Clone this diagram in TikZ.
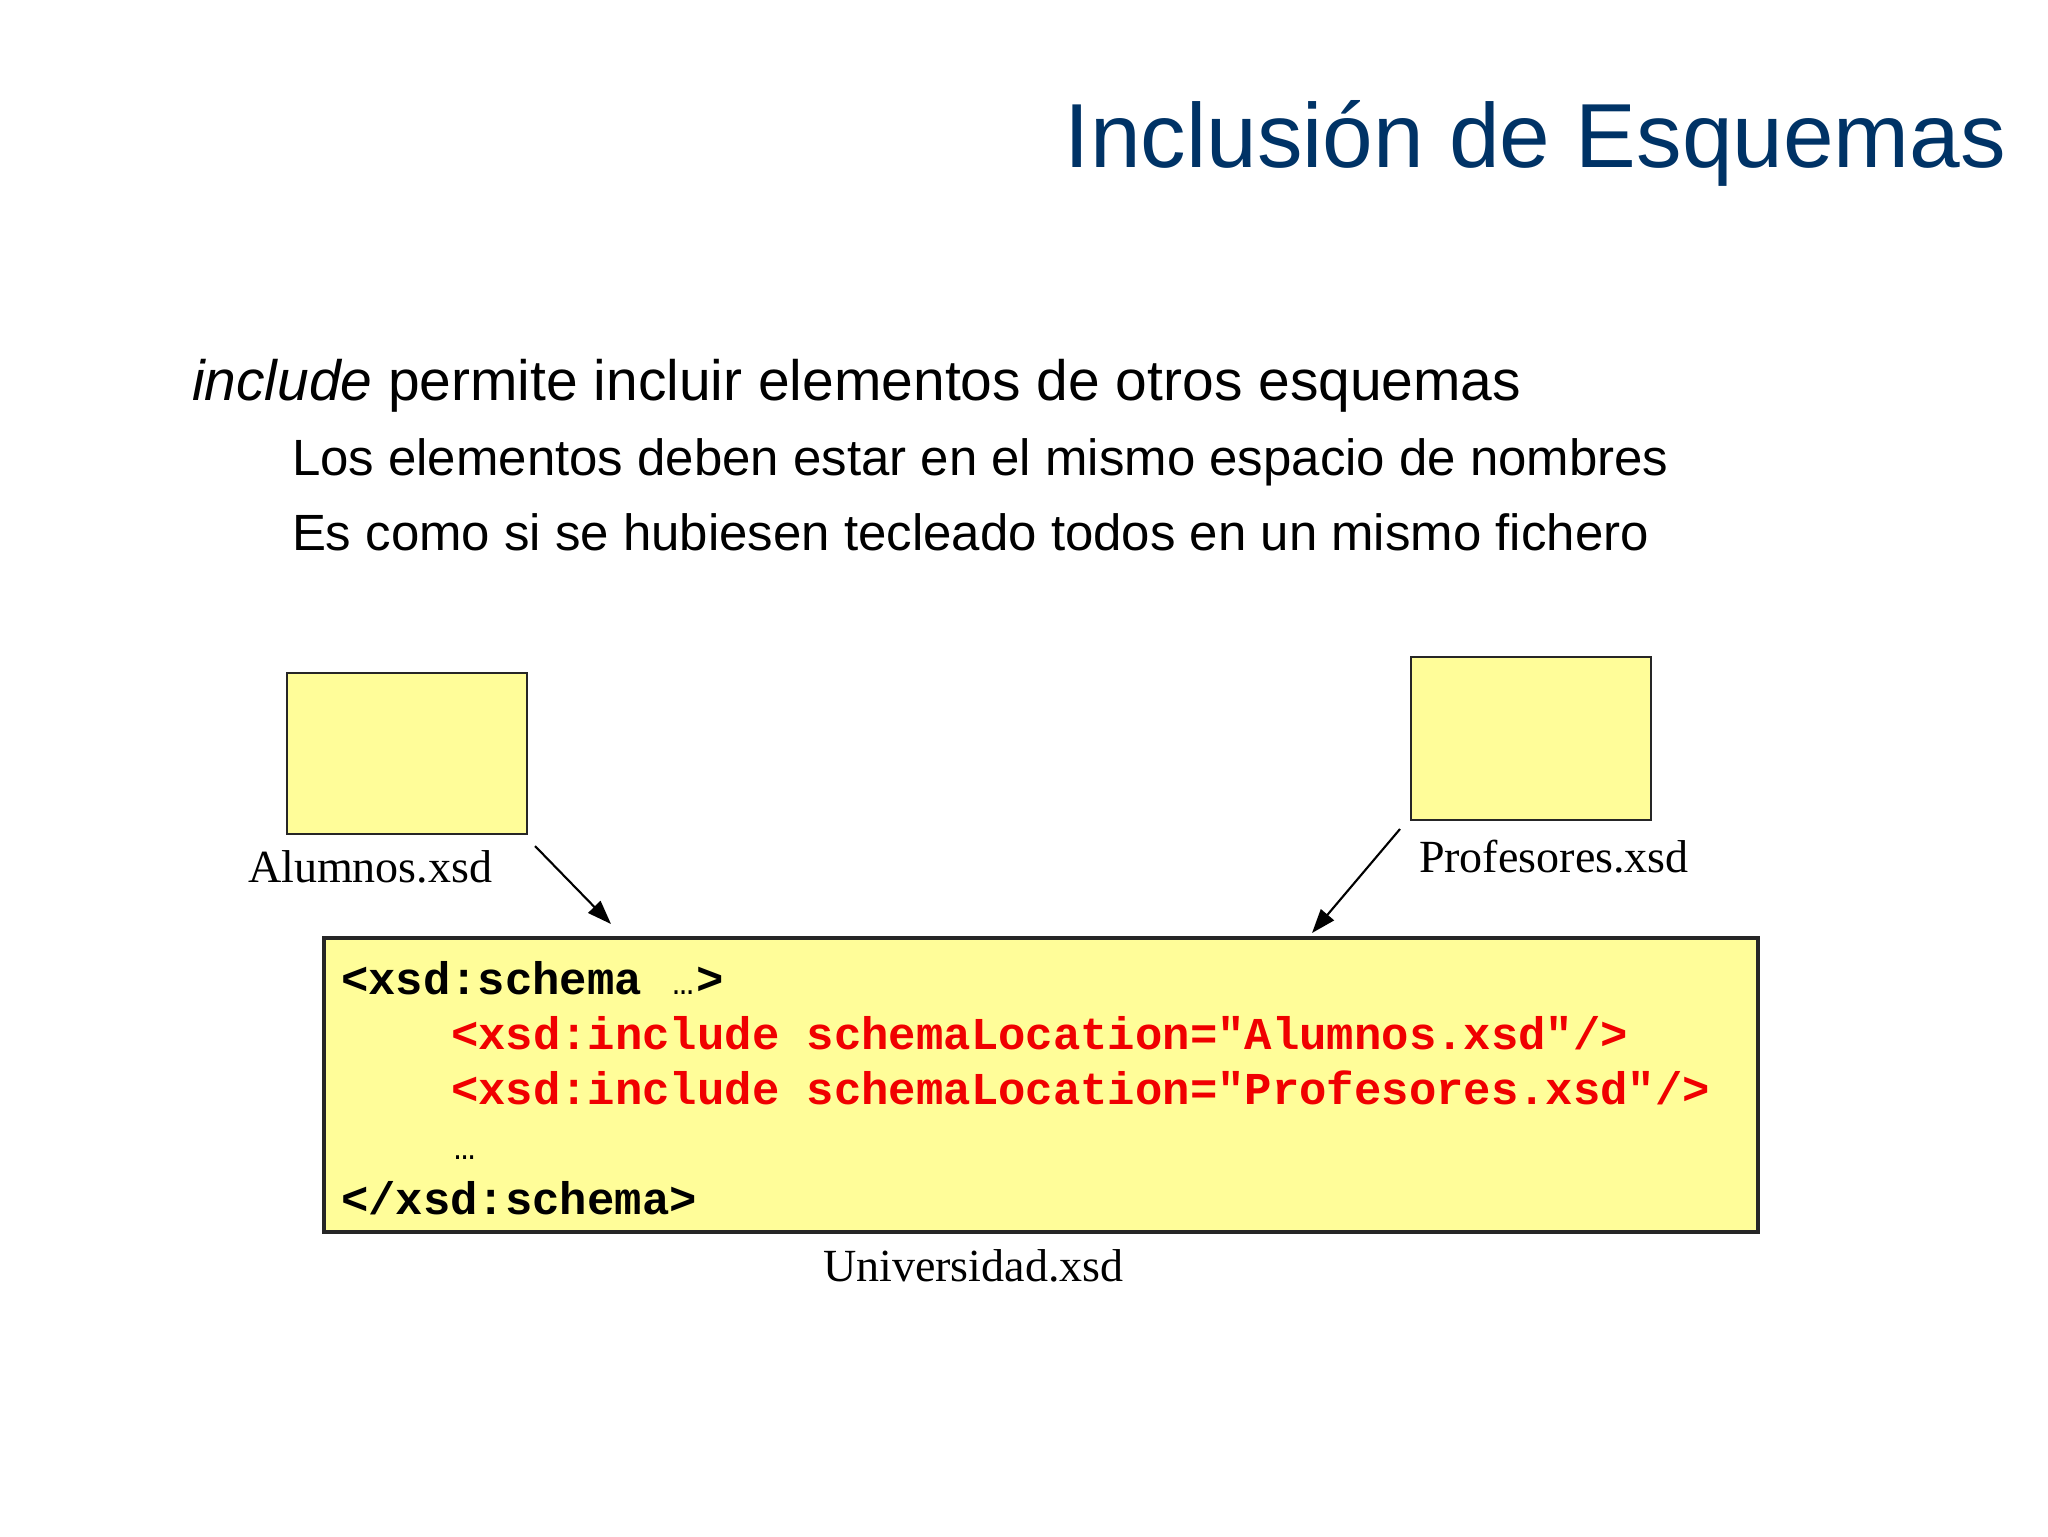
\documentclass[tikz,border=0pt]{standalone}
\usepackage{fontspec}
\setmainfont{Liberation Serif}
\newfontfamily\arialf{Liberation Sans}
\newfontfamily\courf{Liberation Mono}
\usetikzlibrary{arrows.meta}
\definecolor{titleblue}{RGB}{0,51,102}
\definecolor{boxyellow}{RGB}{255,253,153}
\definecolor{codered}{RGB}{240,0,0}
\tikzset{
  txt/.style={anchor=base west, inner sep=0pt, outer sep=0pt},
  ybox/.style={draw=black!85, line width=0.8pt, fill=boxyellow, inner sep=0pt, outer sep=0pt, anchor=north west},
  lbl/.style={txt, font=\fontsize{13.1pt}{15pt}\selectfont},
  codeblk/.style={txt, font=\courf\bfseries\fontsize{12.98pt}{15pt}\selectfont},
  conn/.style={line width=0.6pt, -{Triangle[length=2.4mm,width=1.7mm]}}
}
\newcommand{\mydots}{\makebox[0.6em][c]{\mdseries\fontsize{10pt}{12pt}\selectfont …}}
\begin{document}
\begin{tikzpicture}[x=0.1mm,y=-0.1mm]
\useasboundingbox[fill=white] (0,0) rectangle (2048,1536);
% title
\node[txt, anchor=base east, text=titleblue, font=\arialf\fontsize{25.9pt}{30pt}\selectfont] (title) at (2006,167) {Inclusión de Esquemas};
% bullets
\node[txt, font=\arialf\fontsize{16.2pt}{19pt}\selectfont] (l1) at (192,400) {\textit{include} permite incluir elementos de otros esquemas};
\node[txt, font=\arialf\fontsize{14.5pt}{17pt}\selectfont] (l2) at (292,475) {Los elementos deben estar en el mismo espacio de nombres};
\node[txt, font=\arialf\fontsize{14.5pt}{17pt}\selectfont] (l3) at (292,550) {Es como si se hubiesen tecleado todos en un mismo fichero};
% small schema boxes
\node[ybox, minimum width=24mm, minimum height=16.1mm] (alu) at (287,673) {};
\node[ybox, minimum width=24mm, minimum height=16.3mm] (prof) at (1411,657) {};
\node[lbl] (alulbl) at (248,882) {Alumnos.xsd};
\node[lbl] (proflbl) at (1419,872) {Profesores.xsd};
% code box
\node[ybox, line width=0.9pt, minimum width=143.4mm, minimum height=29.4mm] (univ) at (324,938) {};
\node[codeblk] (c1) at (341,994) {<xsd:schema \mydots>};
\node[codeblk, text=codered] (c2) at (451,1049) {<xsd:include schemaLocation="Alumnos.xsd"/>};
\node[codeblk, text=codered] (c3) at (451,1104) {<xsd:include schemaLocation="Profesores.xsd"/>};
\node[codeblk] (c4) at (451,1159) {\mydots};
\node[codeblk] (c5) at (341,1214) {</xsd:schema>};
\node[lbl] (univlbl) at (823,1281) {Universidad.xsd};
% arrows
\coordinate (a1s) at (535,846);
\coordinate (a1e) at (611,924);
\coordinate (a2s) at (1400,829);
\coordinate (a2e) at (1312,933);
\draw[conn] (a1s) -- (a1e);
\draw[conn] (a2s) -- (a2e);
\end{tikzpicture}
\end{document}
